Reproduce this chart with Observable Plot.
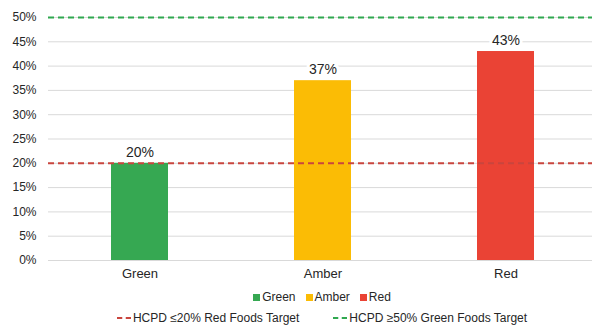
<!DOCTYPE html>
<html>
<head>
<meta charset="utf-8">
<script src="https://cdn.jsdelivr.net/npm/d3@7"></script>
<script src="https://cdn.jsdelivr.net/npm/@observablehq/plot@0.6"></script>
<style>
  body { margin: 0; background: #fff; font-family: "Liberation Sans", Arial, sans-serif; }
  #chart { width: 592px; }
  .legend { display: flex; justify-content: center; align-items: center; font-size: 12px; color: #262626; padding-left: 52px; }
  .legend .item { display: flex; align-items: center; }
  .sw { display: inline-block; width: 7px; height: 7px; margin-right: 2px; }
  .dash { display: inline-block; width: 14px; height: 0; border-top: 2px dashed; margin-right: 2px; }
</style>
</head>
<body>
<div id="chart"></div>
<script>
const categories = ["Green", "Amber", "Red"];
const shares = [0.20, 0.37, 0.43];
const barColors = ["#36a852", "#fbbc05", "#ea4335"];
const yTicks = [0, 0.05, 0.10, 0.15, 0.20, 0.25, 0.30, 0.35, 0.40, 0.45, 0.50];
const targets = [
  { label: "HCPD ≤20% Red Foods Target", value: 0.20, color: "#c9453e" },
  { label: "HCPD ≥50% Green Foods Target", value: 0.50, color: "#2fa84f" }
];

const data = categories.map((c, i) => ({ category: c, share: shares[i] }));
const pct = d => Math.round(d * 100) + "%";

const plot = Plot.plot({
  width: 592,
  height: 285,
  marginTop: 17,
  marginBottom: 25,
  marginLeft: 48,
  marginRight: 0,
  style: { fontFamily: "'Liberation Sans', Arial, sans-serif", fontSize: "12px", color: "#262626", background: "#fff" },
  x: { domain: categories, paddingInner: 0.69, paddingOuter: 0.33, align: 0.52, label: null },
  y: { domain: [0, 0.5], ticks: yTicks, tickFormat: pct, label: null },
  color: { domain: categories, range: barColors },
  marks: [
    Plot.ruleY(yTicks, { stroke: "#d9d9d9", strokeWidth: 1 }),
    Plot.axisY({ ticks: yTicks, tickFormat: pct, tickSize: 0, tickPadding: 12, fontSize: 12, label: null }),
    Plot.axisX({ tickSize: 0, tickPadding: 8, fontSize: 13, label: null }),
    Plot.barY(data, { x: "category", y: "share", fill: "category" }),
    Plot.ruleY(targets, { y: "value", stroke: "color", strokeWidth: 2, strokeDasharray: "6,4" }),
    Plot.text(data, {
      x: "category", y: "share", text: d => pct(d.share), dy: -11,
      fontSize: 14, fill: "#262626", stroke: "#fff", strokeWidth: 6, paintOrder: "stroke"
    })
  ]
});

const host = document.getElementById("chart");
host.appendChild(plot);

// Series legend
const row1 = document.createElement("div");
row1.className = "legend";
row1.style.height = "22px";
row1.style.marginTop = "1px";
categories.forEach((c, i) => {
  const it = document.createElement("span");
  it.className = "item";
  it.style.margin = "0 5px";
  it.innerHTML = `<span class="sw" style="background:${barColors[i]}"></span>${c}`;
  row1.appendChild(it);
});
host.appendChild(row1);

// Target line legend
const row2 = document.createElement("div");
row2.className = "legend";
row2.style.height = "20px";
targets.forEach((t, i) => {
  const it = document.createElement("span");
  it.className = "item";
  it.style.margin = i === 0 ? "0 34px 0 0" : "0";
  it.innerHTML = `<span class="dash" style="border-color:${t.color}"></span>${t.label}`;
  row2.appendChild(it);
});
host.appendChild(row2);
</script>
</body>
</html>
